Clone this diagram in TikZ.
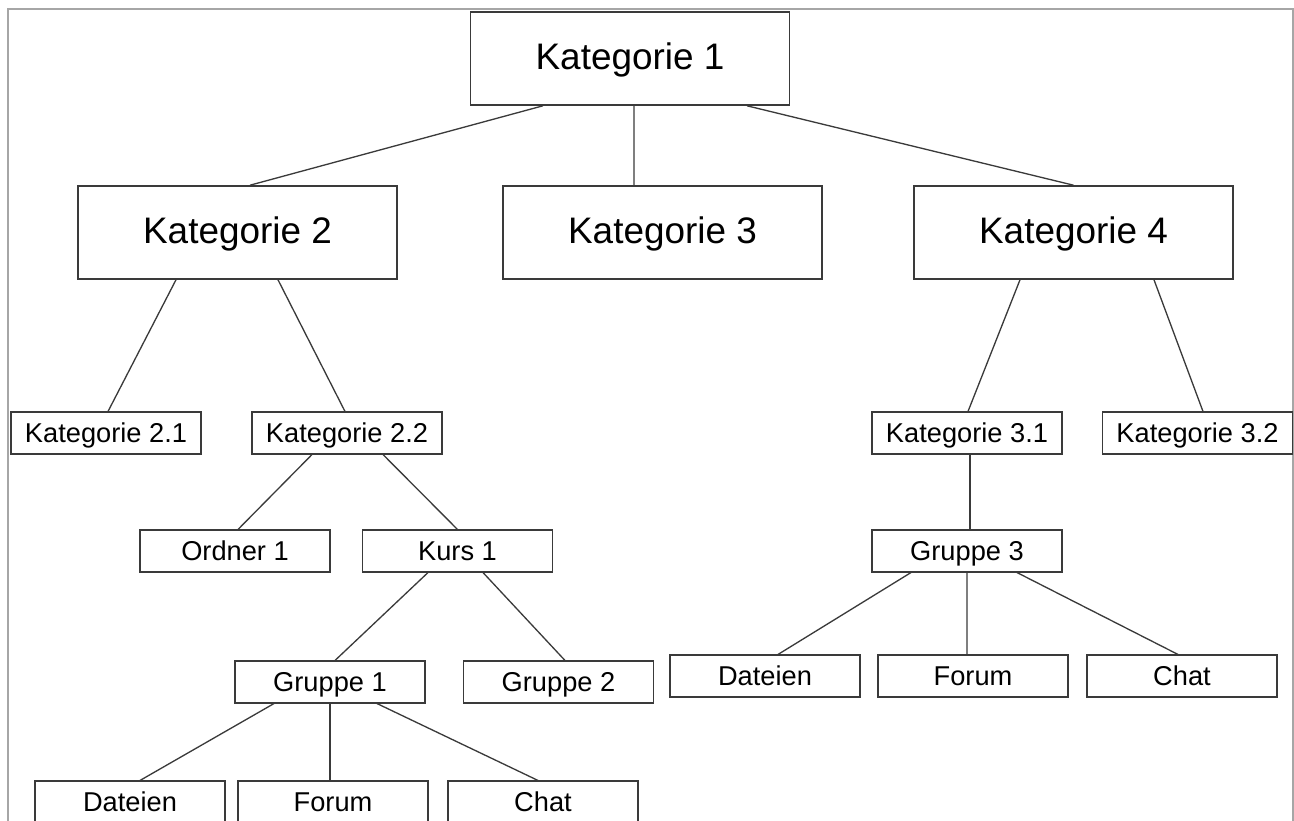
\documentclass[tikz,border=0pt]{standalone}
\usepackage{fontspec}
\setmainfont{Liberation Sans}
\usepackage{tikz}

\begin{document}
\begin{tikzpicture}[
    kat/.style={draw=linie, line width=0.9pt, inner sep=0pt, minimum width=6.38cm, minimum height=1.86cm, text height=15pt, text depth=2.5pt, font=\fontsize{21}{25}\selectfont},
    klein/.style={draw=linie, line width=0.9pt, inner sep=0pt, minimum width=3.8cm, minimum height=0.83cm, text height=11pt, text depth=0.5pt, font=\fontsize{15.5}{18}\selectfont}
  ]
    \definecolor{linie}{HTML}{3A3A3A}
    \useasboundingbox (0cm,0cm) rectangle (25.88cm,-16.42cm);
    \clip (0cm,0cm) rectangle (25.88cm,-16.42cm);
    \draw[gray!70, line width=1pt] (0.16cm,-16.5cm) -- (0.16cm,-0.18cm) -- (25.86cm,-0.18cm) -- (25.86cm,-16.5cm);  %Rahmen

    % obere Ebenen
    \node[kat] (k1) at (12.6cm,-1.17cm) {Kategorie 1};
    \node[kat] (k2) at (4.75cm,-4.65cm) {Kategorie 2};
    \node[kat] (k3) at (13.25cm,-4.65cm) {Kategorie 3};
    \node[kat] (k4) at (21.47cm,-4.65cm) {Kategorie 4};
    \node[klein] (k21) at (2.12cm,-8.66cm) {Kategorie 2.1};
    \node[klein] (k22) at (6.94cm,-8.66cm) {Kategorie 2.2};
    \node[klein] (k31) at (19.34cm,-8.66cm) {Kategorie 3.1};
    \node[klein] (k32) at (23.95cm,-8.66cm) {Kategorie 3.2};

    % Ordner, Kurse, Gruppen
    \node[klein] (ordner1) at (4.7cm,-11.02cm) {Ordner 1};
    \node[klein] (kurs1) at (9.15cm,-11.02cm) {Kurs 1};
    \node[klein] (gruppe3) at (19.34cm,-11.02cm) {Gruppe 3};
    \node[klein] (gruppe1) at (6.6cm,-13.64cm) {Gruppe 1};
    \node[klein] (gruppe2) at (11.17cm,-13.64cm) {Gruppe 2};

    % Werkzeuge
    \node[klein] (dateien3) at (15.3cm,-13.52cm) {Dateien};
    \node[klein] (forum3) at (19.46cm,-13.52cm) {Forum};
    \node[klein] (chat3) at (23.64cm,-13.52cm) {Chat};
    \node[klein] (dateien1) at (2.6cm,-16.04cm) {Dateien};
    \node[klein] (forum1) at (6.66cm,-16.04cm) {Forum};
    \node[klein] (chat1) at (10.86cm,-16.04cm) {Chat};

    \foreach \oben/\xo/\unten/\xu in
    {
      k1/-1.74/k2/0.25, k1/0.08/k3/-0.57, k1/2.34/k4/0,
      k2/-1.23/k21/0.04, k2/0.81/k22/-0.04,
      k4/-1.07/k31/0.02, k4/1.61/k32/0.11,
      k22/-0.70/ordner1/0.06, k22/0.72/kurs1/0,
      kurs1/-0.59/gruppe1/0.1, kurs1/0.51/gruppe2/0.13,
      k31/0.06/gruppe3/0.06,
      gruppe1/-1.12/dateien1/0.2, gruppe1/0/forum1/-0.06, gruppe1/0.94/chat1/-0.1,
      gruppe3/-1.12/dateien3/0.26, gruppe3/0/forum3/-0.12, gruppe3/1.0/chat3/-0.08
    }
    {
      \draw[linie, line width=0.75pt] ([xshift=\xo cm]\oben.south) -- ([xshift=\xu cm]\unten.north);
    };
\end{tikzpicture}
\end{document}
